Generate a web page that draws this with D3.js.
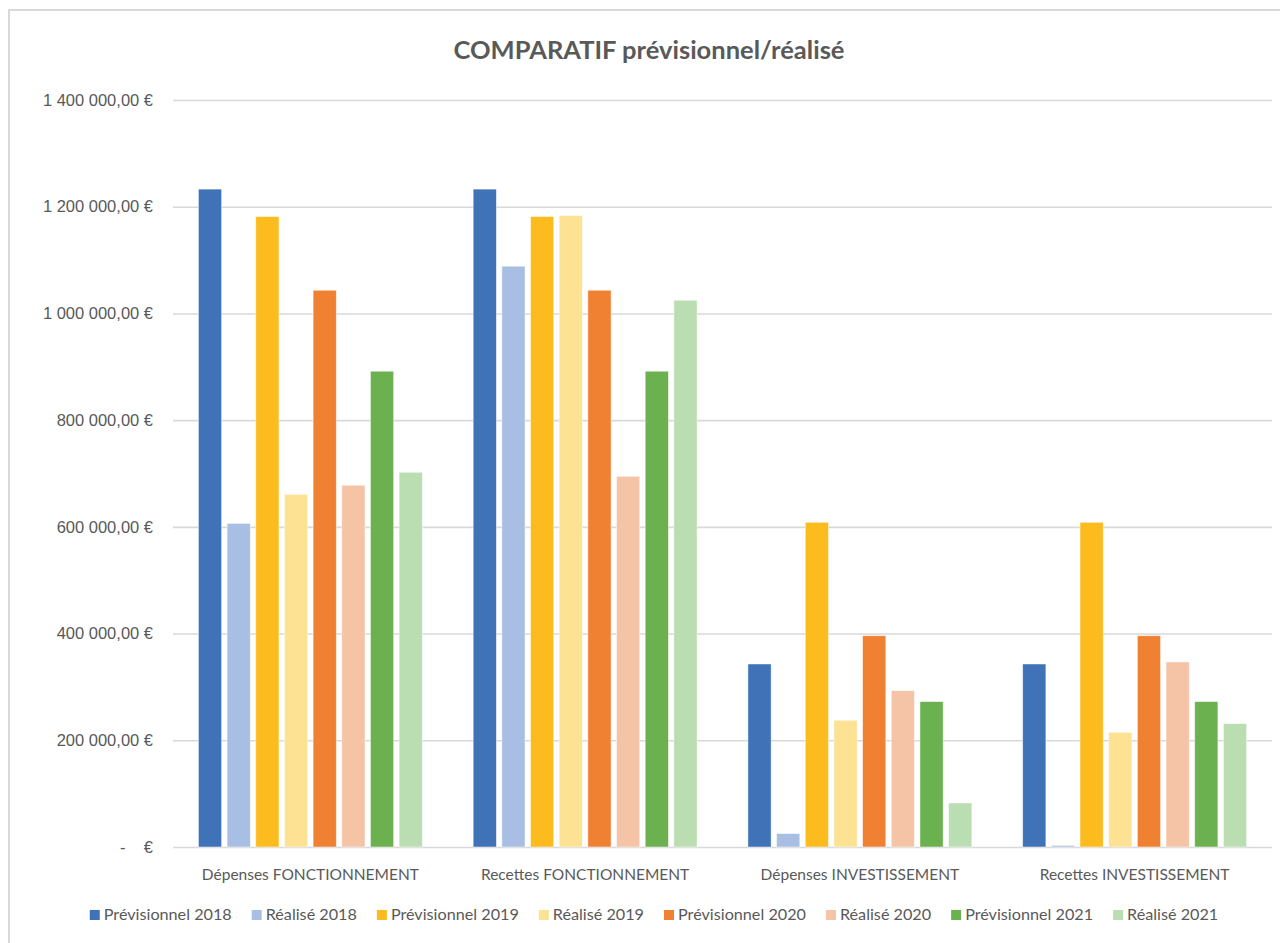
<!DOCTYPE html>
<html>
<head>
<meta charset="utf-8">
<script src="https://cdn.jsdelivr.net/npm/d3@7"></script>
<style>
  html, body { margin: 0; padding: 0; background: #fff; }
  svg { display: block; font-family: Lato, "Noto Sans", sans-serif; }
  .tick text { fill: #595959; font-size: 16.5px; }
  .cat-label { fill: #595959; font-size: 15.5px; }
  .legend text { fill: #595959; font-size: 16.2px; }
</style>
</head>
<body>
<svg id="chart" width="1280" height="943"></svg>
<script>
// Chart data.
const categories = [
  "Dépenses FONCTIONNEMENT",
  "Recettes FONCTIONNEMENT",
  "Dépenses INVESTISSEMENT",
  "Recettes INVESTISSEMENT",
];
const seriesNames = [
  "Prévisionnel 2018", "Réalisé 2018",
  "Prévisionnel 2019", "Réalisé 2019",
  "Prévisionnel 2020", "Réalisé 2020",
  "Prévisionnel 2021", "Réalisé 2021",
];
const seriesColors = [
  "#4072B8", "#A8BFE3",
  "#FDBC1E", "#FDE293",
  "#F08133", "#F5C4A6",
  "#6CB150", "#BADDB2",
];
// one array per series, in category order
const prev2018 = [1233000, 1233000, 343000, 343000];
const real2018 = [606500, 1088500, 25100, 3000];
const prev2019 = [1181600, 1181600, 608600, 608600];
const real2019 = [661000, 1183500, 237500, 215000];
const prev2020 = [1043500, 1043500, 396000, 396000];
const real2020 = [678000, 694800, 293000, 346800];
const prev2021 = [891700, 891700, 272500, 272500];
const real2021 = [702300, 1024700, 82500, 231300];
const seriesValues = [prev2018, real2018, prev2019, real2019, prev2020, real2020, prev2021, real2021];
const yTicks = [0, 200000, 400000, 600000, 800000, 1000000, 1200000, 1400000];

const svg = d3.select("#chart");
const margin = { left: 173, right: 1272, top: 100, bottom: 847 };

// chart frame (only left and top edges fall inside the picture)
svg.append("path")
  .attr("d", "M9,943 V10 H1280")
  .attr("fill", "none")
  .attr("stroke", "#D9D9D9")
  .attr("stroke-width", 2);

svg.append("text")
  .attr("x", 649).attr("y", 59)
  .attr("text-anchor", "middle")
  .attr("fill", "#595959")
  .attr("font-size", 25.5)
  .attr("font-weight", "bold")
  .text("COMPARATIF prévisionnel/réalisé");

const y = d3.scaleLinear().domain([0, 1400000]).range([margin.bottom, margin.top]);
const x0 = d3.scaleBand().domain(categories)
  .range([margin.left, margin.right])
  .paddingInner(0.185).paddingOuter(0.0925);
const x1 = d3.scaleBand().domain(seriesNames)
  .range([0, x0.bandwidth()])
  .paddingInner(0.19);

// Excel-style number format: "1 400 000,00 €", zero shown as "-   €"
const fmt = (v) => v === 0 ? "-\u00a0\u00a0\u00a0\u00a0€"
  : d3.format(",.2f")(v).replace(/,/g, " ").replace(".", ",") + " €";

const yAxis = svg.append("g")
  .attr("transform", `translate(${margin.left},0)`)
  .call(d3.axisLeft(y).tickValues(yTicks).tickFormat(fmt)
    .tickSize(-(margin.right - margin.left)).tickPadding(20));
yAxis.select(".domain").remove();
yAxis.selectAll(".tick line").attr("stroke", "#D9D9D9").attr("stroke-width", 1.6);
yAxis.selectAll(".tick text").attr("xml:space", "preserve");

// bars
const groups = svg.append("g").selectAll("g")
  .data(categories)
  .join("g")
  .attr("transform", (d) => `translate(${x0(d)},0)`);

groups.selectAll("rect")
  .data((c, ci) => seriesNames.map((s, si) => ({ s, si, v: seriesValues[si][ci] })))
  .join("rect")
  .attr("x", (d) => x1(d.s))
  .attr("width", x1.bandwidth())
  .attr("y", (d) => y(d.v))
  .attr("height", (d) => y(0) - y(d.v))
  .attr("fill", (d) => seriesColors[d.si])
  .attr("stroke", "#fff")
  .attr("stroke-width", 0.8)
  .attr("stroke-opacity", 0.6);

// category labels
svg.append("g").selectAll("text")
  .data(categories)
  .join("text")
  .attr("class", "cat-label")
  .attr("x", (d) => x0(d) + x0.bandwidth() / 2)
  .attr("y", 880)
  .attr("text-anchor", "middle")
  .text((d) => d);

// legend, laid out from measured text widths and centred
const legend = svg.append("g").attr("class", "legend");
const items = legend.selectAll("g")
  .data(seriesNames)
  .join("g");
items.append("rect")
  .attr("width", 10).attr("height", 10)
  .attr("y", -10)
  .attr("fill", (d, i) => seriesColors[i]);
items.append("text")
  .attr("x", 14)
  .text((d) => d);
let cursor = 0;
items.each(function () {
  const w = d3.select(this).select("text").node().getComputedTextLength();
  d3.select(this).attr("transform", `translate(${cursor},0)`);
  cursor += 14 + w + 20;
});
const legendWidth = cursor - 20;
legend.attr("transform", `translate(${654 - legendWidth / 2},920)`);
</script>
</body>
</html>
